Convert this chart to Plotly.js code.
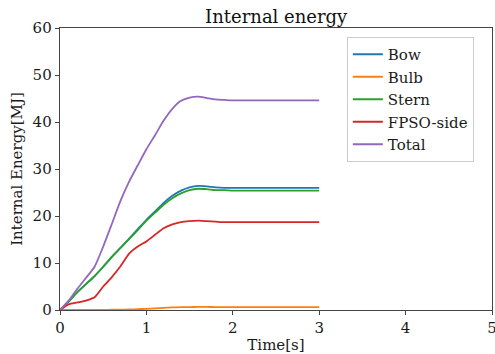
<!DOCTYPE html>
<html><head><meta charset="utf-8">
<script src="https://cdn.plot.ly/plotly-3.0.1.min.js"></script>
<style>body{margin:0;padding:0;background:#fff}#chart{width:495px;height:354px}</style>
</head><body><div id="chart"></div>
<script>
const time = [0,0.1,0.2,0.3,0.4,0.5,0.6,0.7,0.8,0.9,1.0,1.1,1.2,1.3,1.4,1.5,1.6,1.7,1.8,1.9,2.0,2.2,2.4,2.6,2.8,3.0];
const bow   = [0,1.8,3.8,5.5,7.2,9.2,11.3,13.2,15.2,17.2,19.2,21.0,22.8,24.3,25.4,26.1,26.4,26.3,26.1,26.0,26.0,26.0,26.0,26.0,26.0,26.0];
const bulb  = [0,0,0,0,0.01,0.02,0.05,0.08,0.12,0.18,0.25,0.35,0.45,0.55,0.6,0.63,0.65,0.65,0.63,0.62,0.62,0.62,0.62,0.62,0.62,0.62];
const stern = [0,1.8,3.8,5.5,7.2,9.2,11.3,13.2,15.1,17.0,19.0,20.7,22.4,23.8,24.8,25.5,25.8,25.7,25.5,25.5,25.4,25.4,25.4,25.4,25.4,25.4];
const fpso  = [0,1.2,1.6,2.0,2.7,5.0,7.0,9.3,12.0,13.5,14.6,16.0,17.4,18.2,18.7,18.9,19.0,18.9,18.8,18.7,18.7,18.7,18.7,18.7,18.7,18.7];
const total = [0,2.0,4.5,6.8,9.2,13.5,18.3,23.2,27.3,30.8,34.2,37.2,40.3,42.8,44.5,45.2,45.4,45.1,44.8,44.7,44.6,44.6,44.6,44.6,44.6,44.6];
const names = ['Bow','Bulb','Stern','FPSO-side','Total'];
const series = [bow,bulb,stern,fpso,total];
const colors = ['#1f77b4','#ff7f0e','#2ca02c','#d62728','#9467bd'];
const traces = series.map((s,i)=>({x:time,y:s,name:names[i],type:'scatter',mode:'lines',
  line:{color:colors[i],width:1.8,shape:'spline',smoothing:0.6}}));
const font = {family:'DejaVu Serif, serif',color:'#1a1a1a'};
Plotly.newPlot('chart',traces,{
  width:495,height:354,
  margin:{l:60,r:3,t:28,b:44},
  paper_bgcolor:'#fff',plot_bgcolor:'#fff',
  font:Object.assign({size:15},font),
  title:{text:'Internal energy',font:{family:'DejaVu Serif, serif',size:18,color:'#111'},x:0.558,xanchor:'center',y:0.972,yanchor:'top'},
  xaxis:{range:[0,5],dtick:1,showgrid:false,zeroline:false,showline:true,linecolor:'#444',linewidth:1.3,mirror:true,
    ticks:'outside',ticklen:4,tickcolor:'#444',tickfont:{size:15},ticklabeloverflow:'allow',
    title:{text:'Time[s]',font:{size:15},standoff:3}},
  yaxis:{range:[0,60],dtick:10,showgrid:false,zeroline:false,showline:true,linecolor:'#444',linewidth:1.3,mirror:true,
    ticks:'outside',ticklen:4,tickcolor:'#444',tickfont:{size:15},ticklabeloverflow:'allow',
    title:{text:'Internal Energy[MJ]',font:{size:15},standoff:6}},
  legend:{x:0.664,y:0.968,xanchor:'left',yanchor:'top',bgcolor:'rgba(255,255,255,0.9)',bordercolor:'#ccc',borderwidth:1,
    font:{size:15},tracegroupgap:0,itemwidth:30},
  showlegend:true
},{displayModeBar:false,staticPlot:true});
</script></body></html>
